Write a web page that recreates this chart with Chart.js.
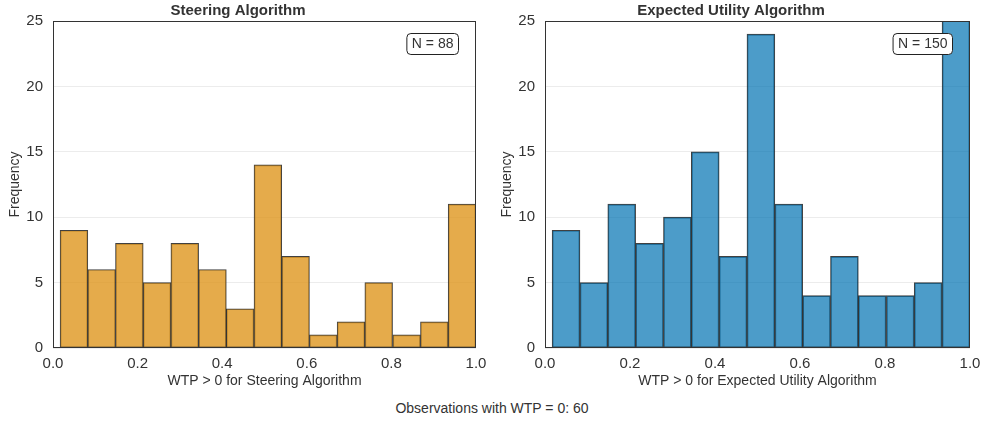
<!DOCTYPE html>
<html>
<head>
<meta charset="utf-8">
<script src="https://cdn.jsdelivr.net/npm/chart.js@4/dist/chart.umd.min.js"></script>
<style>
  body { margin: 0; background: #fff; font-family: "Liberation Sans", Arial, sans-serif; }
  .wrap { position: relative; width: 984px; height: 423px; }
  .box { position: absolute; top: 0; width: 492px; height: 390px; }
  #foot { position: absolute; left: 0; width: 984px; top: 400px; text-align: center; font-size: 14px; color: #333; }
</style>
</head>
<body>
<div class="wrap">
  <div class="box" style="left:0"><canvas id="steer"></canvas></div>
  <div class="box" style="left:492px"><canvas id="eu"></canvas></div>
  <div id="foot">Observations with WTP = 0: 60</div>
</div>
<script>
// bin edges of the two histograms (same for both)
const binEdges = [0.017, 0.082, 0.148, 0.213, 0.279, 0.344, 0.410, 0.475, 0.541, 0.606, 0.672, 0.737, 0.803, 0.869, 0.934, 1.0];
const steerCounts = [9, 6, 8, 5, 8, 6, 3, 14, 7, 1, 2, 5, 1, 2, 11];
const euCounts = [9, 5, 11, 8, 10, 15, 7, 24, 11, 4, 7, 4, 4, 5, 26];
const xTicks = [0, 0.2, 0.4, 0.6, 0.8, 1.0];
const yTicks = [0, 5, 10, 15, 20, 25];

const txt = '#333';
const fontFam = '"Liberation Sans", Arial, sans-serif';

// frame + N box
const framePlugin = {
    id: 'frame',
    afterDatasetsDraw(chart, args, opts) {
        const a = chart.chartArea;
        const ctx = chart.ctx;
        ctx.save();
        ctx.strokeStyle = '#333';
        ctx.lineWidth = 1;
        ctx.strokeRect(a.left + 0.5, a.top + 0.5, a.right - a.left - 1, a.bottom - a.top - 1);
        // N label
        ctx.font = '14px ' + fontFam;
        const label = opts.label;
        const w = ctx.measureText(label).width + 10;
        const h = 21;
        const x = a.right - 18 - w;
        const y = a.top + 12;
        ctx.beginPath();
        ctx.roundRect(x + 0.5, y + 0.5, w, h, 4);
        ctx.fillStyle = '#fff';
        ctx.fill();
        ctx.strokeStyle = '#222';
        ctx.stroke();
        ctx.fillStyle = txt;
        ctx.textAlign = 'center';
        ctx.textBaseline = 'middle';
        ctx.fillText(label, x + w / 2 + 0.5, y + h / 2 + 1);
        ctx.restore();
    }
};

function histo(id, title, xlabel, counts, color, nLabel, rightPad) {
    const pts = counts.map(function (c, i) {
        return { x: (binEdges[i] + binEdges[i + 1]) / 2, y: c };
    });
    new Chart(document.getElementById(id), {
        type: 'bar',
        data: {
            datasets: [{
                data: pts,
                backgroundColor: color,
                borderColor: 'rgba(30,30,30,0.85)',
                borderWidth: 1,
                borderSkipped: false,
                barPercentage: 1,
                categoryPercentage: 1,
                grouped: false
            }]
        },
        options: {
            responsive: true,
            maintainAspectRatio: false,
            animation: false,
            layout: { padding: { left: 0, right: rightPad, top: 0, bottom: 0 } },
            plugins: {
                legend: { display: false },
                tooltip: { enabled: false },
                title: {
                    display: true, text: title, color: txt,
                    font: { family: fontFam, size: 15, weight: 'bold', lineHeight: 1.2 },
                    padding: { top: 2, bottom: 1 }
                },
                frame: { label: nLabel }
            },
            scales: {
                x: {
                    type: 'linear', min: 0, max: 1, offset: false,
                    afterBuildTicks(s) { s.ticks = xTicks.map(function (v) { return { value: v }; }); },
                    afterFit(s) { s.height = 42; s.paddingLeft = 0; s.paddingRight = 0; },
                    grid: { display: false, drawTicks: false, offset: false },
                    border: { display: false },
                    ticks: {
                        color: txt, padding: 7,
                        font: { family: fontFam, size: 15 },
                        callback: function (v) { return v.toFixed(1); }
                    },
                    title: {
                        display: true, text: xlabel, color: txt,
                        font: { family: fontFam, size: 14 }, padding: { top: 0, bottom: 0 }
                    }
                },
                y: {
                    min: 0, max: 25,
                    afterBuildTicks(s) { s.ticks = yTicks.map(function (v) { return { value: v }; }); },
                    afterFit(s) { s.width = 53; },
                    grid: { color: '#ececec', drawTicks: false, lineWidth: 1 },
                    border: { display: false },
                    ticks: { color: txt, padding: 10, font: { family: fontFam, size: 15 } },
                    title: {
                        display: true, text: 'Frequency', color: txt,
                        font: { family: fontFam, size: 14 }, padding: { top: 7, bottom: 0 }
                    }
                }
            }
        },
        plugins: [framePlugin]
    });
}

histo('steer', 'Steering Algorithm', 'WTP > 0 for Steering Algorithm', steerCounts, 'rgba(222,150,30,0.8)', 'N = 88', 16);
histo('eu', 'Expected Utility Algorithm', 'WTP > 0 for Expected Utility Algorithm', euCounts, 'rgba(0,114,178,0.7)', 'N = 150', 14);
</script>
</body>
</html>
